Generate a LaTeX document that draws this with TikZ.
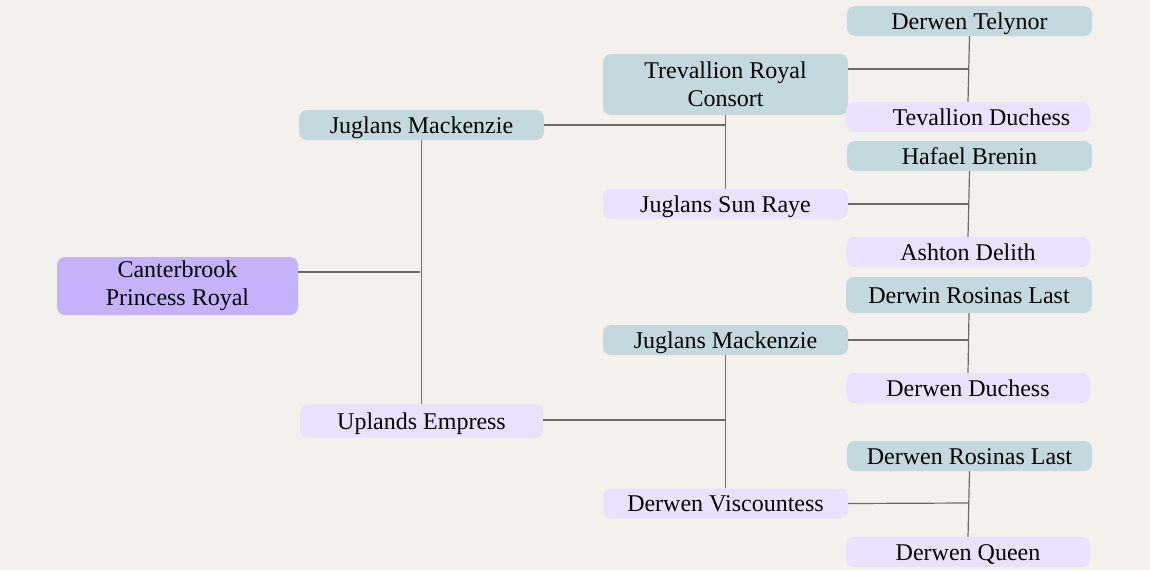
\documentclass[tikz,border=0pt]{standalone}
\usepackage{fontspec}
\setmainfont{Liberation Serif}
\definecolor{bgc}{HTML}{F4F1EC}
\definecolor{rootc}{HTML}{C5B2FB}
\definecolor{sirec}{HTML}{C4D8E0}
\definecolor{damc}{HTML}{EAE1FC}
\definecolor{linec}{HTML}{6E6A68}
\tikzset{
  box/.style={rounded corners=8pt, inner sep=0pt, align=center, font=\fontsize{24}{28.5}\selectfont, text=black},
  oneline/.style={text height=20pt, text depth=4pt},
  rootbox/.style={box, fill=rootc},
  sirebox/.style={box, fill=sirec},
  dambox/.style={box, fill=damc},
  link/.style={draw=linec, line width=1.2pt},
}
\begin{document}
\begin{tikzpicture}[x=1pt,y=-1pt]
\fill[bgc] (0,0) rectangle (1150,570);
\useasboundingbox (0,0) rectangle (1150,570);
% generation 0
\node[rootbox, minimum width=241pt, minimum height=58pt] (root) at (177.5,286) {Canterbrook\\Princess Royal};
% generation 1
\node[sirebox, oneline, minimum width=245pt, minimum height=30pt] (s) at (421.5,125) {Juglans Mackenzie};
\node[dambox, oneline, minimum width=243pt, minimum height=34pt] (d) at (421.5,421) {Uplands Empress};
% generation 2
\node[sirebox, minimum width=245pt, minimum height=61pt] (ss) at (725.5,84.5) {Trevallion Royal\\Consort};
\node[dambox, oneline, minimum width=245pt, minimum height=30pt] (sd) at (725.5,204) {Juglans Sun Raye};
\node[sirebox, oneline, minimum width=245pt, minimum height=30pt] (ds) at (725.5,340) {Juglans Mackenzie};
\node[dambox, oneline, minimum width=245pt, minimum height=30pt] (dd) at (725.5,503.5) {Derwen Viscountess};
% generation 3
\node[sirebox, oneline, minimum width=245pt, minimum height=30pt] (sss) at (969.5,21) {Derwen Telynor};
\node[dambox, oneline, minimum width=244pt, minimum height=30pt] (ssd) at (968,117) {\hspace*{27pt}Tevallion Duchess};
\node[sirebox, oneline, minimum width=245pt, minimum height=30pt] (sds) at (969.5,156) {Hafael Brenin};
\node[dambox, oneline, minimum width=244pt, minimum height=30pt] (sdd) at (968,252) {Ashton Delith};
\node[sirebox, oneline, minimum width=246pt, minimum height=36pt] (dss) at (969,295) {Derwin Rosinas Last};
\node[dambox, oneline, minimum width=244pt, minimum height=30pt] (dsd) at (968,388) {Derwen Duchess};
\node[sirebox, oneline, minimum width=245pt, minimum height=30pt] (dds) at (969.5,456) {Derwen Rosinas Last};
\node[dambox, oneline, minimum width=244pt, minimum height=30pt] (ddd) at (968,552) {Derwen Queen};
% junction coordinates
\coordinate (j0) at (419.5,272);
\coordinate (j1) at (725,125);
\coordinate (j2) at (725,420);
\coordinate (j3) at (968.5,69);
\coordinate (j4) at (968.5,204);
\coordinate (j5) at (968.5,340);
\coordinate (j6) at (968.5,503);
% connectors
\draw[link] (root.east |- j0) -- (j0);
\draw[link] (s.south) -- (d.north);
\draw[link] (s.east) -- (j1);
\draw[link] (ss.south) -- (sd.north);
\draw[link] (d.east |- j2) -- (j2);
\draw[link] (ds.south) -- (dd.north);
\draw[link] (ss.east |- j3) -- (j3);
\draw[link] (sss.south) -- (ssd.north);
\draw[link] (sd.east) -- (j4);
\draw[link] (sds.south) -- (sdd.north);
\draw[link] (ds.east) -- (j5);
\draw[link] (dss.south) -- (dsd.north);
\draw[link] (dd.east) -- (j6);
\draw[link] (dds.south) -- (ddd.north);
\end{tikzpicture}
\end{document}
